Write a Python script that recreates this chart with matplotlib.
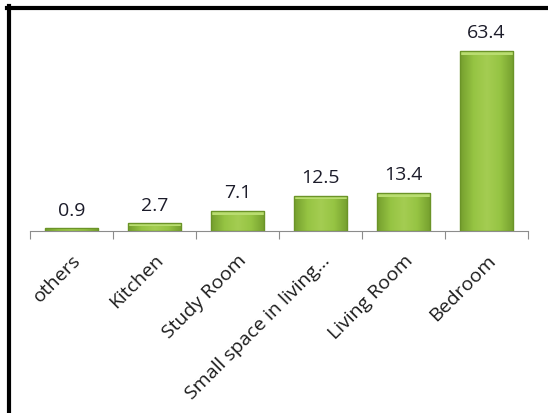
import matplotlib
matplotlib.use("Agg")
import matplotlib.pyplot as plt
import numpy as np
from matplotlib.lines import Line2D
from matplotlib.colors import LinearSegmentedColormap

rooms = ["others", "Kitchen", "Study Room", "Small space in living...", "Living Room", "Bedroom"]
shares = [0.9, 2.7, 7.1, 12.5, 13.4, 63.4]

plt.rcParams['font.family'] = ['Open Sans', 'DejaVu Sans']

fig = plt.figure(figsize=(5.48, 4.14), dpi=100)
ax = fig.add_axes([30 / 548, 1 - 232 / 414, 498 / 548, 212 / 414])

# green gradient, darker at the sides like the excel bevel
green = LinearSegmentedColormap.from_list("g", ["#759f2e", "#96c443", "#a4cd52", "#96c443", "#759f2e"])
grad = np.linspace(0, 1, 64).reshape(1, -1)

x = np.arange(len(rooms))
bars = ax.bar(x, shares, width=0.65, color="none", edgecolor="#6b9428", linewidth=1.0, zorder=3)
for b, v in zip(bars, shares):
    x0, w, h = b.get_x(), b.get_width(), b.get_height()
    im = ax.imshow(grad, cmap=green, aspect="auto", extent=[x0, x0 + w, 0, h], zorder=2)
    im.set_clip_path(b)
    # lighter top bevel
    ax.bar(x0 + w / 2, min(1.4, h * 0.3), width=w, bottom=h - min(1.4, h * 0.3),
           color="#b9dd70", linewidth=0, zorder=2.5)
    ax.annotate(str(v), (x0 + w / 2, h), xytext=(0, 7), textcoords="offset points",
                ha="center", va="bottom", fontsize=14, color="#1c1c2a")

ax.set_xlim(-0.5, len(rooms) - 0.5)
ax.set_ylim(0, 74.7)
ax.set_yticks([])
for s in ["top", "right", "left"]:
    ax.spines[s].set_visible(False)
ax.spines["bottom"].set_color("#8c8c8c")
ax.set_xticks([i - 0.5 for i in range(len(rooms) + 1)])
ax.set_xticklabels([])
ax.tick_params(axis="x", which="major", direction="out", length=6, color="#8c8c8c")
ax.set_xticks(list(x), minor=True)
ax.set_xticklabels(rooms, minor=True, rotation=45, ha="right", rotation_mode="anchor",
                   fontsize=14, color="#1c1c1c")
ax.tick_params(axis="x", which="minor", length=0, pad=14)

# frame on top and left like the original screenshot
fig.add_artist(Line2D([7 / 548, 1], [1 - 9 / 414, 1 - 9 / 414], color="black", lw=3))
fig.add_artist(Line2D([9 / 548, 9 / 548], [1 - 7 / 414, 0], color="black", lw=3))

fig.savefig("out.png", dpi=100)
